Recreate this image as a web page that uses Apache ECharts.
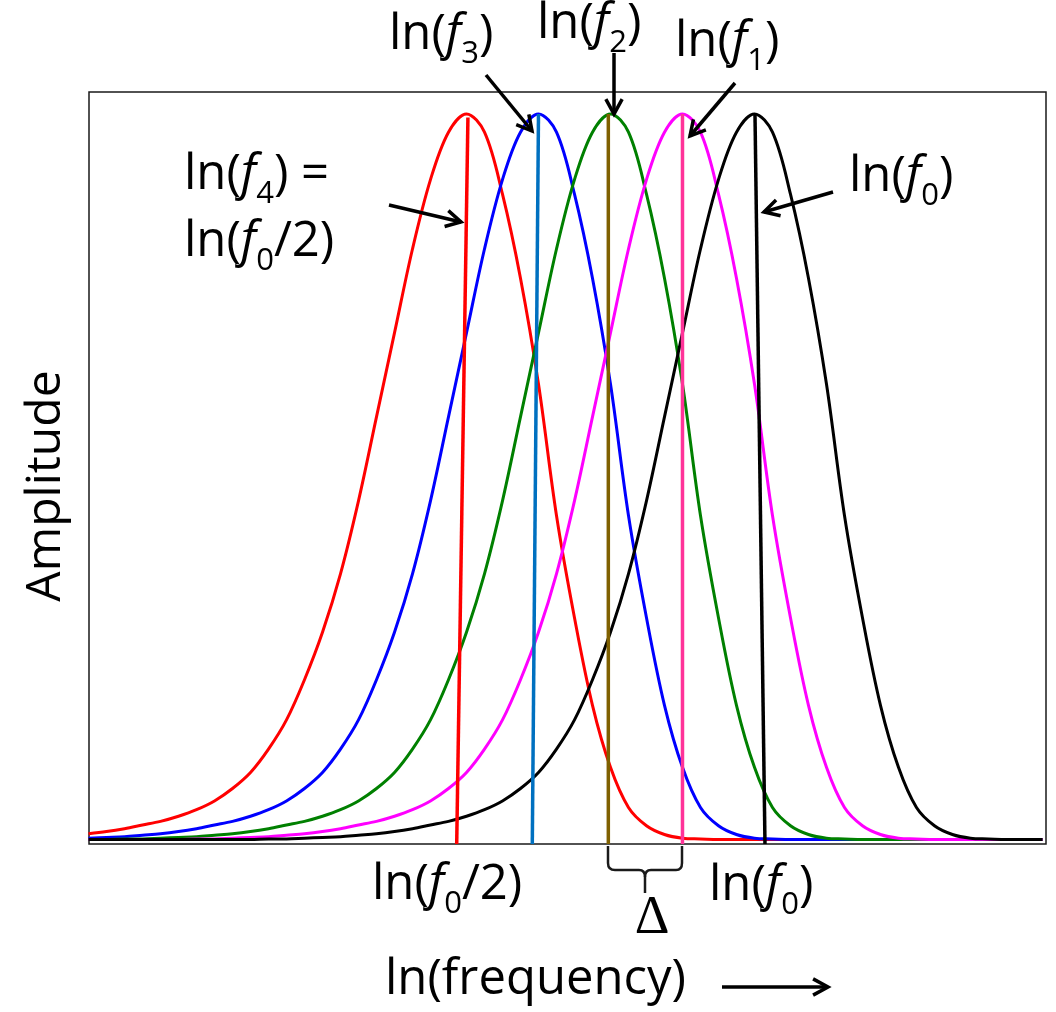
<!DOCTYPE html>
<html>
<head>
<meta charset="utf-8">
<script src="https://cdn.jsdelivr.net/npm/echarts@6/dist/echarts.min.js"></script>
<style>
  html, body { margin: 0; padding: 0; background: #ffffff; }
  #chart { width: 1056px; height: 1012px; }
</style>
</head>
<body>
<div id="chart"></div>
<script>
// ln(frequency) sample positions, in units of the filter spacing Δ (ln(f0/2) = 0, ln(f0) = 4)
const xGrid = [-5.25, -5, -4.75, -4.5, -4.25, -4, -3.75, -3.5, -3.25, -3,
  -2.75, -2.5, -2.25, -2, -1.75, -1.5, -1.25, -1, -0.75, -0.5,
  -0.25, 0, 0.25, 0.5, 0.75, 1, 1.25, 1.5, 1.75, 2,
  2.25, 2.5, 2.75, 3, 3.25, 3.5, 3.75, 4, 4.25, 4.5,
  4.75, 5, 5.25, 5.5, 5.75, 6, 6.25, 6.5, 6.75, 7,
  7.25, 7.5, 7.75, 8];

// filter response amplitudes (normalised to peak = 1) at each xGrid position
const ampF4 = [0.014, 0.017, 0.021, 0.026, 0.031, 0.038, 0.047, 0.059, 0.076, 0.098,
  0.13, 0.17, 0.225, 0.29, 0.37, 0.47, 0.585, 0.70, 0.815, 0.91,
  0.975, 1.0, 0.975, 0.89, 0.775, 0.63, 0.45, 0.31, 0.19, 0.105,
  0.05, 0.025, 0.013, 0.008, 0.007, 0.006, 0.006, 0.006, 0.006, 0.006,
  0.006, 0.006, 0.006, 0.006, 0.006, 0.006, 0.006, 0.006, 0.006, 0.006,
  0.006, 0.006, 0.006, 0.006];
const ampF3 = [0.008, 0.009, 0.010, 0.012, 0.014, 0.017, 0.021, 0.026, 0.031, 0.038,
  0.047, 0.059, 0.076, 0.098, 0.13, 0.17, 0.225, 0.29, 0.37, 0.47,
  0.585, 0.70, 0.815, 0.91, 0.975, 1.0, 0.975, 0.89, 0.775, 0.63,
  0.45, 0.31, 0.19, 0.105, 0.05, 0.025, 0.013, 0.008, 0.007, 0.006,
  0.006, 0.006, 0.006, 0.006, 0.006, 0.006, 0.006, 0.006, 0.006, 0.006,
  0.006, 0.006, 0.006, 0.006];
const ampF2 = [0.006, 0.006, 0.007, 0.007, 0.008, 0.009, 0.010, 0.012, 0.014, 0.017,
  0.021, 0.026, 0.031, 0.038, 0.047, 0.059, 0.076, 0.098, 0.13, 0.17,
  0.225, 0.29, 0.37, 0.47, 0.585, 0.70, 0.815, 0.91, 0.975, 1.0,
  0.975, 0.89, 0.775, 0.63, 0.45, 0.31, 0.19, 0.105, 0.05, 0.025,
  0.013, 0.008, 0.007, 0.006, 0.006, 0.006, 0.006, 0.006, 0.006, 0.006,
  0.006, 0.006, 0.006, 0.006];
const ampF1 = [0.006, 0.006, 0.006, 0.006, 0.006, 0.006, 0.007, 0.007, 0.008, 0.009,
  0.010, 0.012, 0.014, 0.017, 0.021, 0.026, 0.031, 0.038, 0.047, 0.059,
  0.076, 0.098, 0.13, 0.17, 0.225, 0.29, 0.37, 0.47, 0.585, 0.70,
  0.815, 0.91, 0.975, 1.0, 0.975, 0.89, 0.775, 0.63, 0.45, 0.31,
  0.19, 0.105, 0.05, 0.025, 0.013, 0.008, 0.007, 0.006, 0.006, 0.006,
  0.006, 0.006, 0.006, 0.006];
const ampF0 = [0.006, 0.006, 0.006, 0.006, 0.006, 0.006, 0.006, 0.006, 0.006, 0.006,
  0.007, 0.007, 0.008, 0.009, 0.010, 0.012, 0.014, 0.017, 0.021, 0.026,
  0.031, 0.038, 0.047, 0.059, 0.076, 0.098, 0.13, 0.17, 0.225, 0.29,
  0.37, 0.47, 0.585, 0.70, 0.815, 0.91, 0.975, 1.0, 0.975, 0.89,
  0.775, 0.63, 0.45, 0.31, 0.19, 0.105, 0.05, 0.025, 0.013, 0.008,
  0.007, 0.006, 0.006, 0.006];

// centre-frequency markers: [ln f at amplitude 0, amplitude], [ln f at peak, amplitude]
const markF4 = [[-0.136, 0], [0.02, 0.995]];
const markF3 = [[0.914, 0], [1.0, 1.0]];
const markF2 = [[1.97, 0], [1.97, 1.0]];
const markF1 = [[3.0, 0], [3.0, 1.0]];
const markF0 = [[4.146, 0], [4.007, 1.0]];

const curveColors = ['#ff0000', '#0000ff', '#008000', '#ff00ff', '#000000'];
const markColors = ['#ff0000', '#0070c0', '#7f6000', '#ff3399', '#000000'];

const FONT = '"Open Sans", "Noto Sans", sans-serif';
const RICH = {
  m: { fontFamily: FONT, fontSize: 49, lineHeight: 49, verticalAlign: 'top', fill: '#000' },
  i: { fontFamily: FONT, fontSize: 49, lineHeight: 49, fontStyle: 'italic', verticalAlign: 'top', fill: '#000' },
  s: { fontFamily: FONT, fontSize: 31, lineHeight: 31, padding: [28, 0, 0, 0], verticalAlign: 'top', fill: '#000' }
};

function lnLabel(x, y, sub, tail) {
  return {
    type: 'text', x: x, y: y, z: 100,
    style: { text: '{m|ln(}{i|f}{s|' + sub + '}{m|' + tail + '}', rich: RICH, align: 'left', verticalAlign: 'top' }
  };
}

function arrow(x1, y1, x2, y2) {
  const ang = Math.atan2(y2 - y1, x2 - x1);
  const len = 17, spread = 0.5;
  const p1 = [x2 - len * Math.cos(ang - spread), y2 - len * Math.sin(ang - spread)];
  const p2 = [x2 - len * Math.cos(ang + spread), y2 - len * Math.sin(ang + spread)];
  const st = { stroke: '#000', lineWidth: 3.5, fill: null, lineCap: 'butt', lineJoin: 'miter' };
  return [
    { type: 'line', z: 100, shape: { x1: x1, y1: y1, x2: x2, y2: y2 }, style: st },
    { type: 'polyline', z: 100, shape: { points: [p1, [x2, y2], p2] }, style: st }
  ];
}

const ampSets = [ampF4, ampF3, ampF2, ampF1, ampF0];
const markSets = [markF4, markF3, markF2, markF1, markF0];

const series = [];
ampSets.forEach(function (amp, k) {
  series.push({
    type: 'line', smooth: 0.35, symbol: 'none', z: 2 + k,
    lineStyle: { color: curveColors[k], width: 3 },
    data: xGrid.map(function (x, i) { return [x, amp[i]]; })
  });
});
markSets.forEach(function (m, k) {
  series.push({
    type: 'line', symbol: 'none', z: 10,
    lineStyle: { color: markColors[k], width: 3.5 },
    data: m
  });
});

const braceStyle = { stroke: '#1a1a1a', lineWidth: 2.5, fill: null };
const brace = [
  { type: 'line', shape: { x1: 608, y1: 846, x2: 608, y2: 863 }, style: braceStyle },
  { type: 'bezierCurve', shape: { x1: 608, y1: 863, cpx1: 608, cpy1: 870, x2: 615, y2: 870 }, style: braceStyle },
  { type: 'line', shape: { x1: 615, y1: 870, x2: 639, y2: 870 }, style: braceStyle },
  { type: 'bezierCurve', shape: { x1: 639, y1: 870, cpx1: 645, cpy1: 870, x2: 645, y2: 877 }, style: braceStyle },
  { type: 'line', shape: { x1: 645, y1: 877, x2: 645, y2: 893 }, style: braceStyle },
  { type: 'bezierCurve', shape: { x1: 645, y1: 877, cpx1: 645, cpy1: 870, x2: 651, y2: 870 }, style: braceStyle },
  { type: 'line', shape: { x1: 651, y1: 870, x2: 676, y2: 870 }, style: braceStyle },
  { type: 'bezierCurve', shape: { x1: 676, y1: 870, cpx1: 682, cpy1: 870, x2: 682, y2: 863 }, style: braceStyle },
  { type: 'line', shape: { x1: 682, y1: 863, x2: 682, y2: 846 }, style: braceStyle }
];

const graphic = [].concat(
  [
    lnLabel(389, 11, '3', ')'),
    lnLabel(537, 0, '2', ')'),
    lnLabel(675, 18, '1', ')'),
    lnLabel(184, 151, '4', ') ='),
    lnLabel(184, 218, '0', '/2)'),
    lnLabel(849, 153, '0', ')'),
    lnLabel(372, 861, '0', '/2)'),
    lnLabel(709, 862, '0', ')'),
    {
      type: 'text', x: 385, y: 956, z: 100,
      style: { text: 'ln(frequency)', fontFamily: FONT, fontSize: 49, fill: '#000', align: 'left', verticalAlign: 'top' }
    },
    {
      type: 'text', x: 652, y: 919, z: 100,
      style: { text: 'Δ', fontFamily: '"Liberation Serif", "DejaVu Serif", serif', fontSize: 54, fill: '#000', align: 'center', verticalAlign: 'middle' }
    },
    {
      type: 'text', x: 46, y: 486, rotation: Math.PI / 2, z: 100,
      style: { text: 'Amplitude', fontFamily: FONT, fontSize: 48, fill: '#000', align: 'center', verticalAlign: 'middle' }
    }
  ],
  arrow(486, 75, 532, 131),
  arrow(614, 53, 614, 114),
  arrow(735, 83, 690, 136),
  arrow(389, 205, 461, 222),
  arrow(833, 192, 764, 212),
  arrow(722, 987, 828, 987),
  brace
);

const chart = echarts.init(document.getElementById('chart'), null, { renderer: 'canvas' });
chart.setOption({
  animation: false,
  backgroundColor: '#ffffff',
  grid: {
    left: 89, top: 92, width: 957, height: 752,
    show: true, borderColor: '#1a1a1a', borderWidth: 1.5, backgroundColor: 'transparent'
  },
  xAxis: {
    type: 'value', min: -5.243, max: 8.049,
    axisLine: { show: false }, axisTick: { show: false }, axisLabel: { show: false }, splitLine: { show: false }
  },
  yAxis: {
    type: 'value', min: 0, max: 1.03,
    axisLine: { show: false }, axisTick: { show: false }, axisLabel: { show: false }, splitLine: { show: false }
  },
  series: series,
  graphic: graphic
});
</script>
</body>
</html>
